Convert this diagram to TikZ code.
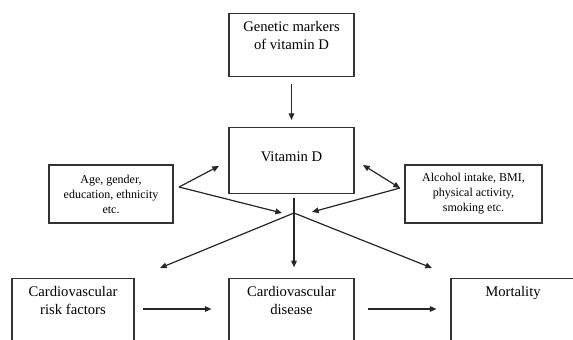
\documentclass[tikz,border=0pt]{standalone}
\usepackage{fontspec}
\setmainfont{Liberation Serif}
\usetikzlibrary{arrows.meta,positioning}

\begin{document}
\begin{tikzpicture}[x=0.75pt, y=-0.75pt, >={Triangle[length=5pt,width=4.2pt]},
  box/.style={draw=black!80, line width=0.8pt, align=center, inner ysep=6pt,
    font=\fontsize{11}{13.5}\selectfont},
  smallbox/.style={box, inner ysep=3pt, font=\fontsize{9}{11.25}\selectfont},
  arr/.style={->, line width=0.9pt, black!85}]
\useasboundingbox (0,0) rectangle (573,339);
\clip (0,0) rectangle (573,339);

% Boxes
\node[box, anchor=north, minimum width=93.75pt, text depth=14.25pt] (gen) at (291.5,13) {Genetic markers\\of vitamin D};
\node[box, anchor=north, minimum width=93.75pt, text height=19.7pt, text depth=17.8pt] (vit) at (291.5,127) {Vitamin D};
\node[smallbox, minimum width=93pt, minimum height=43.5pt] (age) at (111,194) {Age, gender,\\education, ethnicity\\etc.};
\node[smallbox, minimum width=102.75pt, minimum height=43.5pt] (alc) at (473.5,194) {Alcohol intake, BMI,\\physical activity,\\smoking etc.};
\node[box, anchor=north, minimum width=91.5pt, text depth=40pt] (risk) at (73,278) {Cardiovascular\\risk factors};
\node[box, anchor=north, minimum width=93.75pt, text depth=40pt] (cvd) at (291.5,278) {Cardiovascular\\disease};
\node[box, anchor=north, minimum width=93pt, text depth=40pt] (mort) at (513,278) {Mortality};

% Points where the arrows meet
\coordinate (hub) at (294,213);
\coordinate (hubw) at (282,213);
\coordinate (hube) at (312,212);
\coordinate (agep) at (179,187);
\coordinate (alcp) at (400,188);
\coordinate (vitw) at (219,166);
\coordinate (vite) at (363,165);
\coordinate (riskin) at (160,268);
\coordinate (mortin) at (432,268);
\coordinate (midrow) at (0,309);

% Arrows
\draw[arr, shorten <=5.25pt, shorten >=5.25pt] (gen) -- (vit);
\draw[arr, shorten <=3pt, shorten >=8pt] (hub |- vit.south) -- (hub |- cvd.north);
\draw[arr] (hub) -- (riskin);
\draw[arr] (hub) -- (mortin);
\draw[arr] (agep) -- (vitw);
\draw[arr] (agep) -- (hubw);
\draw[arr, <->] (vite) -- (alcp);
\draw[arr] (alcp) -- (hube);
\draw[arr, shorten <=6pt, shorten >=12.75pt] (risk.east |- midrow) -- (cvd.west |- midrow);
\draw[arr, shorten <=9.75pt, shorten >=10.5pt] (cvd.east |- midrow) -- (mort.west |- midrow);
\end{tikzpicture}
\end{document}
